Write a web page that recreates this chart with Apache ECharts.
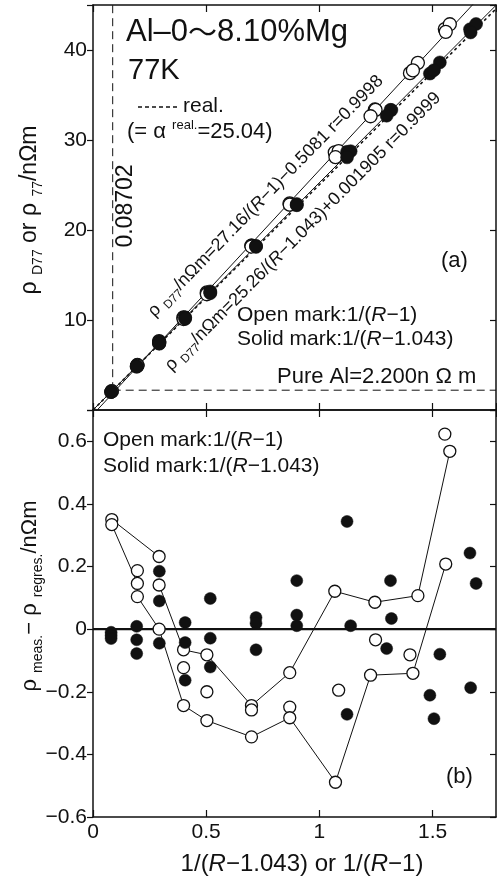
<!DOCTYPE html>
<html>
<head>
<meta charset="utf-8">
<script src="https://cdn.jsdelivr.net/npm/echarts@6/dist/echarts.min.js"></script>
<style>
html,body{margin:0;padding:0;background:#fff;}
#chart{width:497px;height:883px;}
</style>
</head>
<body>
<div id="chart"></div>
<script>
// Open marks: x = 1/(R-1); rho_77 in nΩm; residual from the open-mark regression
const openX = [0.083,0.083,0.196,0.196,0.196,0.292,0.292,0.292,0.400,0.400,0.400,0.503,0.503,0.503,0.700,0.700,0.700,0.869,0.869,0.869,1.068,1.085,1.071,1.245,1.248,1.226,1.435,1.400,1.413,1.554,1.576,1.558];
const openRho = [2.10,2.08,5.00,4.96,4.92,7.65,7.56,7.42,10.29,10.23,10.11,13.07,12.95,12.86,18.26,18.25,18.16,22.96,22.85,22.81,28.62,28.77,28.09,33.39,33.35,32.64,38.57,37.43,37.73,42.32,42.86,42.02];
const openRes = [0.350,0.334,0.187,0.146,0.104,0.232,0.141,0.000,-0.066,-0.123,-0.244,-0.082,-0.200,-0.292,-0.244,-0.258,-0.344,-0.139,-0.249,-0.283,0.121,-0.195,-0.489,0.086,-0.034,-0.147,0.107,-0.082,-0.141,0.623,0.568,0.208];
// open marks joined by thin lines in panel (b) (indices into the open arrays)
const openChains = [[0,5],[1,3],[4,7,10,13,16,19,22,25,28,31],[6,8,11,14,17,20,23,26,30]];

// Solid marks: x = 1/(R-1.043)
const solidX = [0.080,0.080,0.080,0.193,0.193,0.193,0.293,0.293,0.293,0.407,0.407,0.407,0.518,0.518,0.518,0.720,0.720,0.720,0.900,0.900,0.900,1.122,1.138,1.122,1.314,1.318,1.297,1.532,1.488,1.506,1.665,1.692,1.668];
const solidRho = [2.01,2.00,1.99,4.89,4.84,4.80,7.59,7.49,7.36,10.30,10.24,10.12,13.18,13.06,12.97,18.23,18.21,18.12,22.89,22.78,22.75,28.69,28.76,28.07,33.35,33.33,32.70,38.62,37.38,37.76,42.30,42.89,41.95];
const solidRes = [-0.010,-0.020,-0.030,0.009,-0.034,-0.078,0.185,0.090,-0.045,0.021,-0.043,-0.163,0.098,-0.029,-0.121,0.037,0.019,-0.066,0.155,0.045,0.011,0.344,0.011,-0.272,0.155,0.034,-0.062,-0.080,-0.211,-0.286,0.243,0.146,-0.187];

// regression lines and reference values
const FIT_OPEN = {a: 27.16, b: -0.5081};
const FIT_SOLID = {a: 25.26, b: 0.001905};
const ALPHA_REAL = 25.04;
const X_CRIT = 0.08702;
const RHO_PURE = 2.200;

const X_MAX = 1.78;
const TOP_TICKS = [10, 20, 30, 40];
const BOT_TICKS = [-0.6, -0.4, -0.2, 0, 0.2, 0.4, 0.6];
const X_TICKS = [0, 0.5, 1, 1.5];

const FONT = "'Liberation Sans', Arial, Helvetica, sans-serif";
const CJK = "'Noto Sans CJK JP', 'Noto Sans CJK SC', sans-serif";
const INK = '#111';

const pair = (xs, ys) => xs.map((x, i) => [x, ys[i]]);
const fitLine = (f) => [[0, f.b], [X_MAX, f.a * X_MAX + f.b]];

const chart = echarts.init(document.getElementById('chart'), null, {renderer: 'canvas'});

function xAxis(grid, pos, labels) {
  return {
    type: 'value', gridIndex: grid, position: pos, min: 0, max: X_MAX, interval: 0.5,
    axisLine: {show: true, onZero: false, lineStyle: {color: INK, width: 1.5}},
    axisTick: {show: true, inside: true, length: 7, lineStyle: {color: INK, width: 1.2}},
    splitLine: {show: false},
    axisLabel: labels ? {
      show: true, margin: 5, color: INK, fontSize: 21, fontFamily: FONT,
      showMaxLabel: false,
      formatter: v => X_TICKS.some(t => Math.abs(t - v) < 1e-6) ? String(v) : ''
    } : {show: false}
  };
}
function yAxis(grid, pos, min, max, interval, labels, ticks) {
  return {
    type: 'value', gridIndex: grid, position: pos, min: min, max: max, interval: interval,
    axisLine: {show: true, onZero: false, lineStyle: {color: INK, width: 1.5}},
    axisTick: {show: true, inside: pos === 'right', length: 6, lineStyle: {color: INK, width: 1.2}},
    splitLine: {show: false},
    axisLabel: labels ? {
      show: true, margin: 6, color: INK, fontSize: 21, fontFamily: FONT,
      formatter: v => ticks.some(t => Math.abs(t - v) < 1e-6) ? String(+v.toFixed(2)).replace('-', '−') : ''
    } : {show: false}
  };
}

const lineSeries = (xi, yi, data, style, z) => ({
  type: 'line', xAxisIndex: xi, yAxisIndex: yi, data: data, symbol: 'none',
  silent: true, clip: true, z: z || 2, lineStyle: Object.assign({color: INK, width: 1}, style)
});

const openStyle = {color: '#fff', borderColor: INK, borderWidth: 1.3, opacity: 1};
const solidStyle = {color: INK, borderColor: INK, borderWidth: 0.5, opacity: 1};

const series = [
  // panel (a)
  lineSeries(0, 0, fitLine(FIT_OPEN), {width: 1}),
  lineSeries(0, 0, fitLine(FIT_SOLID), {width: 1}),
  lineSeries(0, 0, [[0, 0], [X_MAX, ALPHA_REAL * X_MAX]], {width: 1.6, type: [3, 3]}),
  lineSeries(0, 0, [[X_CRIT, RHO_PURE], [X_CRIT, 45]], {width: 1, type: [8, 5]}),
  lineSeries(0, 0, [[X_CRIT, RHO_PURE], [X_MAX, RHO_PURE]], {width: 1, type: [8, 5]}),
  {type: 'scatter', xAxisIndex: 0, yAxisIndex: 0, data: pair(openX, openRho), symbol: 'circle', symbolSize: 13, itemStyle: openStyle, z: 4, silent: true},
  {type: 'scatter', xAxisIndex: 0, yAxisIndex: 0, data: pair(solidX, solidRho), symbol: 'circle', symbolSize: 13, itemStyle: solidStyle, z: 5, silent: true},
  // panel (b)
  lineSeries(2, 2, [[0, 0], [X_MAX, 0]], {width: 2.2}, 3)
];
openChains.forEach(ch => {
  series.push(lineSeries(2, 2, ch.map(i => [openX[i], openRes[i]]), {width: 1}));
});
series.push(
  {type: 'scatter', xAxisIndex: 2, yAxisIndex: 2, data: pair(openX, openRes), symbol: 'circle', symbolSize: 12, itemStyle: openStyle, z: 4, silent: true},
  {type: 'scatter', xAxisIndex: 2, yAxisIndex: 2, data: pair(solidX, solidRes), symbol: 'circle', symbolSize: 12, itemStyle: solidStyle, z: 5, silent: true}
);

function txt(x, y, text, size, extra) {
  const o = Object.assign({align: 'left', rot: 0, rich: {}}, extra || {});
  return {
    type: 'text', x: x, y: y, rotation: o.rot, z: 100, silent: true,
    style: {
      text: text, fill: INK, fontSize: size, fontFamily: FONT,
      align: o.align, verticalAlign: 'middle', rich: o.rich
    }
  };
}
const ital = (size) => ({fontStyle: 'italic', fontSize: size, fontFamily: FONT, fill: INK});
const sub = (size, lh) => ({fontSize: size, fontFamily: FONT, fill: INK, verticalAlign: 'bottom', lineHeight: lh});
const base = (size, lh) => ({fontSize: size, fontFamily: FONT, fill: INK, lineHeight: lh});

const DEG = Math.PI / 180;

const graphic = [
  txt(126, 32, '{m|Al–0}{w|～}{m|8.10%Mg}', 31, {rich: {m: base(31, 36), w: {fontSize: 29, fontFamily: CJK, fill: INK, lineHeight: 36}}}),
  txt(128, 71, '77K', 29),
  {type: 'line', z: 100, silent: true, shape: {x1: 138, y1: 107, x2: 180, y2: 107}, style: {stroke: INK, lineWidth: 1.6, lineDash: [4, 3]}},
  txt(183, 106, 'real.', 21),
  txt(127, 132, '{m|(= α }{p|real.}{m|=25.04)}', 22, {rich: {m: base(22, 26), p: {fontSize: 13, fontFamily: FONT, fill: INK, verticalAlign: 'top', lineHeight: 13}}}),
  txt(126, 206, '0.08702', 23, {align: 'center', rot: 90 * DEG}),
  txt(151, 314, '{m|ρ }{s|D77}{m|/nΩm=27.16/(}{i|R}{m|−1)−0.5081 r=0.9998}', 18,
      {rot: 45.8 * DEG, rich: {m: base(18, 24), s: sub(12, 12), i: ital(18)}}),
  txt(168, 368, '{m|ρ }{s|D77}{m|/nΩm=25.26/(}{i|R}{m|−1.043)+0.001905 r=0.9999}', 18,
      {rot: 45.3 * DEG, rich: {m: base(18, 24), s: sub(12, 12), i: ital(18)}}),
  txt(441, 261, '(a)', 22),
  txt(237, 315, '{m|Open mark:1/(}{i|R}{m|−1)}', 21, {rich: {m: base(21), i: ital(21)}}),
  txt(237, 339, '{m|Solid mark:1/(}{i|R}{m|−1.043)}', 21, {rich: {m: base(21), i: ital(21)}}),
  txt(277, 377, 'Pure Al=2.200n Ω m', 22),
  txt(103, 440, '{m|Open mark:1/(}{i|R}{m|−1)}', 21, {rich: {m: base(21), i: ital(21)}}),
  txt(103, 466, '{m|Solid mark:1/(}{i|R}{m|−1.043)}', 21, {rich: {m: base(21), i: ital(21)}}),
  txt(446, 777, '(b)', 22),
  txt(302, 864, '{m|1/(}{i|R}{m|−1.043) or 1/(}{i|R}{m|−1)}', 24, {align: 'center', rich: {m: base(24), i: ital(24)}}),
  txt(30, 210, '{m|ρ }{s|D77}{m| or ρ }{s|77}{m|/nΩm}', 23,
      {align: 'center', rot: 90 * DEG, rich: {m: base(23, 31), s: sub(14, 14)}}),
  txt(30, 596, '{m|ρ }{s|meas.}{m|− ρ }{s|regres.}{m|/nΩm}', 22,
      {align: 'center', rot: 90 * DEG, rich: {m: base(22, 30), s: sub(14, 14)}})
];

chart.setOption({
  animation: false,
  backgroundColor: '#fff',
  grid: [
    {left: 93, right: 1, top: 5, height: 405},
    {left: 93, right: 1, top: 410, height: 407}
  ],
  xAxis: [
    xAxis(0, 'bottom', false),
    xAxis(0, 'top', false),
    xAxis(1, 'bottom', true),
    xAxis(1, 'top', false)
  ],
  yAxis: [
    yAxis(0, 'left', 0, 45, 10, true, TOP_TICKS),
    yAxis(0, 'right', 0, 45, 10, false, TOP_TICKS),
    yAxis(1, 'left', -0.6, 0.7, 0.2, true, BOT_TICKS),
    yAxis(1, 'right', -0.6, 0.7, 0.2, false, BOT_TICKS)
  ],
  series: series,
  graphic: graphic
});
</script>
</body>
</html>
